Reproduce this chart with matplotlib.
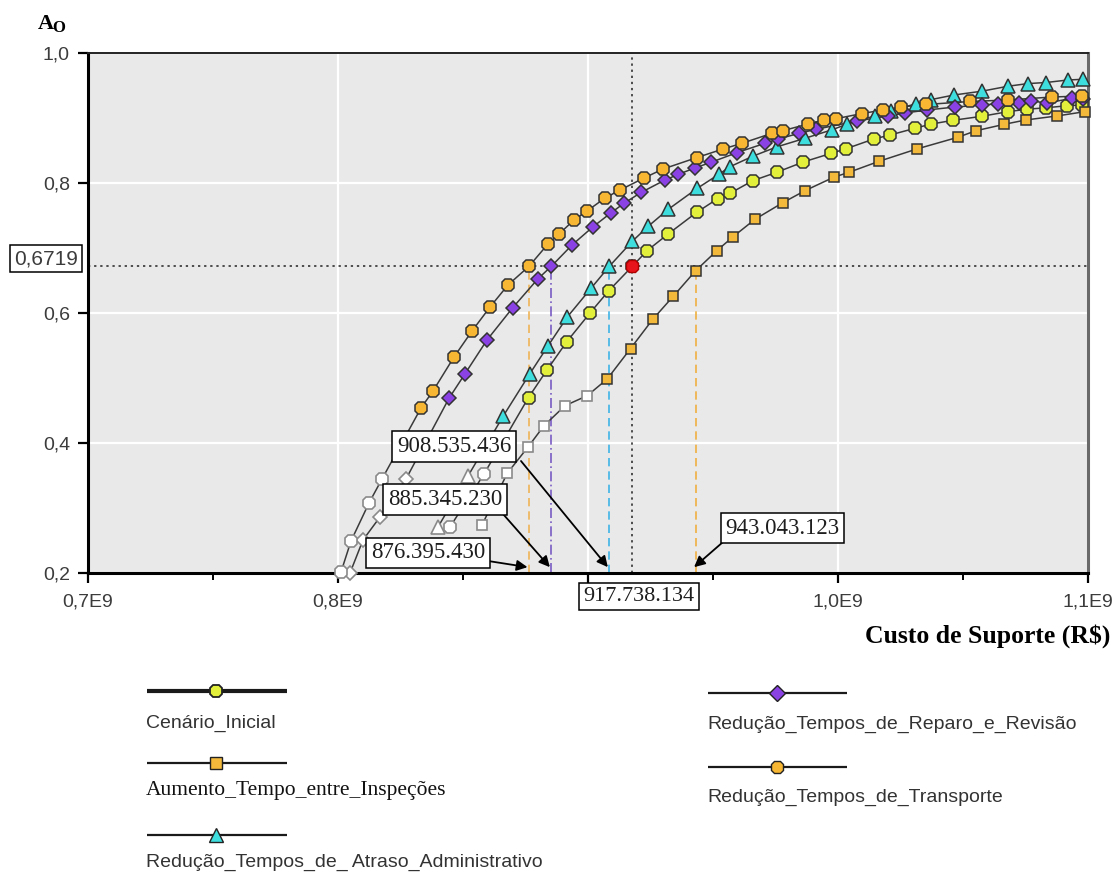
import matplotlib
matplotlib.use("Agg")
import matplotlib.pyplot as plt
from matplotlib.ticker import MultipleLocator, FuncFormatter

# ---------------------------------------------------------------------------
# Dados: custo de suporte (milhões de R$) x disponibilidade operacional (Ao)
# ---------------------------------------------------------------------------
series_nomes = [
    "Cenário_Inicial",
    "Aumento_Tempo_entre_Inspeções",
    "Redução_Tempos_de_ Atraso_Administrativo",
    "Redução_Tempos_de_Reparo_e_Revisão",
    "Redução_Tempos_de_Transporte",
]

ao_alvo = 0.6719

# custo (R$) em que cada cenário atinge Ao = 0,6719
custo_alvo_inicial = 917738134
custo_alvo_inspecoes = 943043123
custo_alvo_atraso = 908535436
custo_alvo_reparo = 885345230
custo_alvo_transporte = 876395430

inicial_custo = [844.8, 858.4, 876.2, 883.5, 891.5, 900.9, 908.3, 917.738, 923.6, 931.8,
                 943.5, 951.8, 956.8, 965.9, 975.5, 986.1, 997.3, 1003.3, 1014.3, 1020.8,
                 1030.8, 1037.0, 1046.1, 1057.5, 1067.9, 1075.5, 1083.2, 1091.6, 1097.7]
inicial_ao = [0.2708, 0.3523, 0.4700, 0.5118, 0.5558, 0.6005, 0.6342, 0.6719, 0.6958, 0.7208,
              0.7549, 0.7757, 0.7842, 0.8035, 0.8165, 0.8323, 0.8457, 0.8528, 0.8677, 0.8738,
              0.8842, 0.8905, 0.8965, 0.9026, 0.9097, 0.9135, 0.9157, 0.9189, 0.9200]

inspecoes_custo = [857.6, 867.7, 876.1, 882.4, 890.8, 899.7, 907.7, 917.0, 925.9, 934.1,
                   943.043, 951.5, 957.8, 966.8, 977.9, 986.8, 998.3, 1004.5, 1016.5, 1031.5,
                   1047.9, 1055.1, 1066.5, 1075.0, 1087.5, 1098.7]
inspecoes_ao = [0.2738, 0.3534, 0.3943, 0.4266, 0.4574, 0.4728, 0.4985, 0.5452, 0.5903, 0.6257,
                0.6650, 0.6958, 0.7166, 0.7442, 0.7697, 0.7882, 0.8089, 0.8166, 0.8335, 0.8523,
                0.8703, 0.8803, 0.8903, 0.8969, 0.9031, 0.9097]

atraso_custo = [840.0, 852.0, 866.1, 876.6, 883.9, 891.7, 901.2, 908.535, 917.7, 924.1,
                932.1, 943.7, 952.4, 956.8, 966.1, 975.7, 986.8, 997.7, 1003.6, 1014.6,
                1021.0, 1031.3, 1037.2, 1046.4, 1057.5, 1067.9, 1075.8, 1083.2, 1092.0, 1097.9]
atraso_ao = [0.2708, 0.3492, 0.4415, 0.5058, 0.5488, 0.5938, 0.6380, 0.6719, 0.7103, 0.7335,
             0.7595, 0.7918, 0.8135, 0.8251, 0.8415, 0.8558, 0.8688, 0.8820, 0.8905, 0.9031,
             0.9108, 0.9220, 0.9283, 0.9354, 0.9412, 0.9488, 0.9529, 0.9546, 0.9585, 0.9595]

reparo_custo = [804.8, 810.0, 816.8, 827.2, 844.4, 850.8, 859.6, 869.9, 879.9, 885.345,
                893.6, 901.9, 909.1, 914.4, 921.2, 930.6, 936.0, 942.7, 949.2, 959.5,
                970.8, 976.1, 984.5, 991.2, 1007.6, 1020.0, 1026.8, 1035.6, 1046.8, 1057.6,
                1064.0, 1072.4, 1077.2, 1083.6, 1093.6, 1098.0]
reparo_ao = [0.2000, 0.2508, 0.2862, 0.3446, 0.4688, 0.5065, 0.5585, 0.6082, 0.6523, 0.6719,
             0.7046, 0.7323, 0.7538, 0.7688, 0.7854, 0.8042, 0.8131, 0.8231, 0.8318, 0.8466,
             0.8611, 0.8677, 0.8765, 0.8826, 0.8954, 0.9031, 0.9077, 0.9123, 0.9169, 0.9200,
             0.9218, 0.9235, 0.9262, 0.9231, 0.9303, 0.9288]

transporte_custo = [801.2, 805.2, 812.4, 817.6, 833.2, 838.0, 846.4, 853.6, 860.8, 868.0,
                    876.395, 884.0, 888.4, 894.4, 899.6, 906.8, 912.8, 922.4, 930.0, 943.6,
                    954.0, 961.6, 973.6, 978.0, 988.0, 994.4, 999.2, 1009.6, 1018.0, 1025.2,
                    1035.2, 1052.8, 1068.0, 1085.6, 1097.6]
transporte_ao = [0.2015, 0.2492, 0.3077, 0.3446, 0.4538, 0.4800, 0.5323, 0.5723, 0.6092, 0.6431,
                 0.6719, 0.7062, 0.7215, 0.7431, 0.7569, 0.7769, 0.7892, 0.8077, 0.8215, 0.8392,
                 0.8523, 0.8611, 0.8765, 0.8805, 0.8908, 0.8969, 0.8989, 0.9069, 0.9123, 0.9169,
                 0.9208, 0.9254, 0.9277, 0.9323, 0.9338]

x_ticks = [0.7e9, 0.8e9, 0.9e9, 1.0e9, 1.1e9]
y_ticks = [0.2, 0.4, 0.6, 0.8, 1.0]

# ---------------------------------------------------------------------------
# Estilos
# ---------------------------------------------------------------------------
AMARELO = "#e2f03c"
LARANJA_Q = "#f2b93b"
CIANO = "#3fdede"
ROXO = "#8a42e4"
LARANJA_C = "#f7b733"
LINHA = "#3a3a3a"

estilos = [
    dict(marker="8", ms=9.5, face=AMARELO, vazios=2),
    dict(marker="s", ms=7.5, face=LARANJA_Q, vazios=6),
    dict(marker="^", ms=10, face=CIANO, vazios=2),
    dict(marker="D", ms=7.5, face=ROXO, vazios=4),
    dict(marker="8", ms=9.5, face=LARANJA_C, vazios=4),
]

dados = [
    (inicial_custo, inicial_ao),
    (inspecoes_custo, inspecoes_ao),
    (atraso_custo, atraso_ao),
    (reparo_custo, reparo_ao),
    (transporte_custo, transporte_ao),
]

plt.rcParams["font.family"] = ["Liberation Sans", "DejaVu Sans"]
SERIF = ["Liberation Serif", "DejaVu Serif"]

W, H = 1120, 876
fig = plt.figure(figsize=(W / 100, H / 100), dpi=100)
fig.patch.set_facecolor("white")

L, R, T, B = 88, 1088, 53, 573
ax = fig.add_axes([L / W, 1 - B / H, (R - L) / W, (B - T) / H])
ax.set_facecolor("#e9e9e9")
ax.set_xlim(0.7e9, 1.1e9)
ax.set_ylim(0.2, 1.0)

# grade branca
ax.set_xticks(x_ticks)
ax.set_yticks(y_ticks)
ax.xaxis.set_minor_locator(MultipleLocator(0.05e9))
ax.grid(True, which="major", color="white", lw=1.6, zorder=0)
ax.set_axisbelow(True)


def fmt_x(v, pos):
    if abs(v - 0.9e9) < 1e6:
        return ""
    return f"{v / 1e9:.1f}E9".replace(".", ",")


ax.xaxis.set_major_formatter(FuncFormatter(fmt_x))
ax.yaxis.set_major_formatter(FuncFormatter(lambda v, p: f"{v:.1f}".replace(".", ",")))
ax.tick_params(axis="both", which="major", labelsize=14, labelcolor="#3c3c3c",
               direction="out", length=7, width=1.6, color="black")
ax.tick_params(axis="x", which="minor", direction="out", length=5, width=1.4, color="black")
ax.tick_params(axis="x", pad=8)
ax.tick_params(axis="y", pad=6)

for lado in ("left", "bottom"):
    ax.spines[lado].set_linewidth(2.2)
    ax.spines[lado].set_color("black")
ax.spines["top"].set_linewidth(1.4)
ax.spines["top"].set_color("#222222")
ax.spines["right"].set_linewidth(2.2)
ax.spines["right"].set_color("#6a6a6a")

# linhas de referência em Ao = 0,6719
ax.axhline(ao_alvo, color="#222222", lw=1.1, ls=(0, (1.5, 2.5)), zorder=2)
ax.axvline(custo_alvo_inicial, color="#222222", lw=1.1, ls=(0, (1.5, 2.5)), zorder=2)
refs = [
    (custo_alvo_transporte, "#f0b456", (0, (5, 3))),
    (custo_alvo_reparo, "#7a5cc4", (0, (6, 2, 1, 2))),
    (custo_alvo_atraso, "#3fb4e6", (0, (5, 3))),
    (custo_alvo_inspecoes, "#eeb040", (0, (5, 3))),
]
for xv, cor, ls in refs:
    ax.plot([xv, xv], [0.2, ao_alvo], color=cor, lw=1.2, ls=ls, zorder=2)

# curvas dos cenários
for (xs, ys), st in zip(dados, estilos):
    xr = [v * 1e6 for v in xs]
    ax.plot(xr, ys, color=LINHA, lw=1.1, zorder=3)
    n = st["vazios"]
    ax.plot(xr[:n], ys[:n], ls="none", marker=st["marker"], ms=st["ms"],
            mfc="white", mec="#8a8a8a", mew=1.2, zorder=4, clip_on=False)
    ax.plot(xr[n:], ys[n:], ls="none", marker=st["marker"], ms=st["ms"],
            mfc=st["face"], mec="#333333", mew=1.1, zorder=4, clip_on=False)

# ponto do cenário inicial em Ao = 0,6719
ax.plot([custo_alvo_inicial], [ao_alvo], ls="none", marker="8", ms=10,
        mfc="#e8141c", mec="#b00000", mew=1.0, zorder=5)


def rotulo_custo(v):
    return f"{v:,}".replace(",", ".")


caixa = dict(boxstyle="square,pad=0.2", fc="white", ec="black", lw=1.1)
seta = dict(arrowstyle="-|>", color="black", lw=1.3, mutation_scale=16,
            shrinkA=0, shrinkB=0)

anotacoes = [
    (custo_alvo_atraso, (846.4e6, 0.3946), (873.2e6, 0.3723)),
    (custo_alvo_reparo, (842.8e6, 0.3131), (866.0e6, 0.2908)),
    (custo_alvo_transporte, (836.0e6, 0.2308), (860.0e6, 0.2185)),
    (custo_alvo_inspecoes, (977.8e6, 0.2692), (954.0e6, 0.2477)),
]
for valor, pos_txt, ini in anotacoes:
    ax.annotate("", xy=(valor - 0.6e6, 0.209), xytext=ini, arrowprops=seta, zorder=6)
    ax.text(pos_txt[0], pos_txt[1], rotulo_custo(valor), family=SERIF, fontsize=16.5,
            color="#1e1e1e", ha="center", va="center", bbox=caixa, zorder=7)

ax.text(920.4e6, 0.1638, rotulo_custo(custo_alvo_inicial), family=SERIF, fontsize=16,
        color="#1e1e1e", ha="center", va="center", bbox=caixa, zorder=7, clip_on=False)
ax.text(683.2e6, 0.6838, f"{ao_alvo:.4f}".replace(".", ","), fontsize=15,
        color="#3c3c3c", ha="center", va="center", bbox=caixa, zorder=7, clip_on=False)

# camada de textos e legenda em coordenadas de pixel
ov = fig.add_axes([0, 0, 1, 1], zorder=10)
ov.set_xlim(0, W)
ov.set_ylim(H, 0)
ov.axis("off")
ov.patch.set_alpha(0)

ov.text(38, 24, "A", family=SERIF, fontweight="bold", fontsize=16, ha="left", va="center")
ov.text(52.5, 28, "O", family=SERIF, fontweight="bold", fontsize=12, ha="left", va="center")
ov.text(1110, 636, "Custo de Suporte (R$)", family=SERIF, fontweight="bold",
        fontsize=18.5, ha="right", va="center")

legenda = [
    (147, 287, 691, 723, 3.0, "sans"),
    (147, 287, 763, 791, 1.6, "serif"),
    (147, 287, 835, 862, 1.6, "sans"),
    (708, 847, 693, 724, 1.6, "sans"),
    (708, 847, 767, 797, 1.6, "sans"),
]
for nome, st, (x0, x1, yl, yt, lw, fam) in zip(series_nomes, estilos, legenda):
    ov.plot([x0, x1], [yl, yl], color="#1a1a1a", lw=lw, solid_capstyle="butt")
    ov.plot([(x0 + x1) / 2 - 1], [yl], ls="none", marker=st["marker"], ms=st["ms"] + 0.5,
            mfc=st["face"], mec="#222222", mew=1.3 if lw > 2 else 1.0)
    if fam == "serif":
        ov.text(x0 - 1, yt, nome, family=SERIF, fontsize=15.5, color="#111111",
                ha="left", va="center")
    else:
        ov.text(x0 - 1, yt, nome, fontsize=14, color="#333333", ha="left", va="center")

fig.savefig("out.png", dpi=100, facecolor="white")
